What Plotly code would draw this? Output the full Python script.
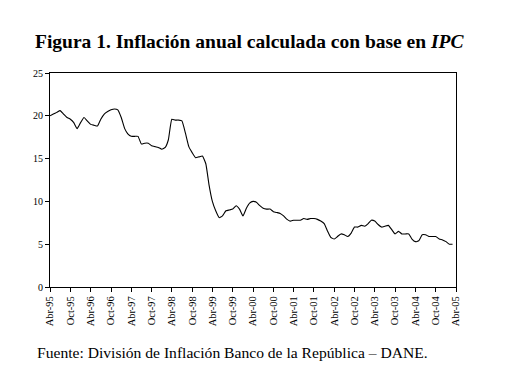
import plotly.graph_objects as go
import pandas as pd

# Monthly annual inflation (%), Abr-95 .. Mar-05
inflacion = [
    20.0, 20.2, 20.4, 20.6, 20.2, 19.8, 19.6, 19.2, 18.5, 19.2, 19.8, 19.4,
    19.0, 18.9, 18.8, 19.6, 20.2, 20.5, 20.7, 20.8, 20.7, 19.8, 18.5, 17.9,
    17.6, 17.6, 17.6, 16.7, 16.8, 16.8, 16.5, 16.4, 16.3, 16.1, 16.3, 17.2,
    19.6, 19.5, 19.5, 19.4, 18.0, 16.4, 15.7, 15.1, 15.2, 15.3, 14.4, 12.0,
    10.0, 8.9, 8.1, 8.3, 8.9, 9.0, 9.1, 9.5, 9.1, 8.3, 9.2, 9.8,
    10.0, 9.9, 9.5, 9.2, 9.1, 9.1, 8.8, 8.7, 8.6, 8.3, 7.9, 7.7,
    7.8, 7.8, 7.8, 8.0, 7.9, 8.0, 8.0, 7.9, 7.7, 7.4, 6.5, 5.8,
    5.6, 5.9, 6.2, 6.1, 5.9, 6.3, 7.0, 7.0, 7.2, 7.1, 7.4, 7.8,
    7.7, 7.3, 7.0, 7.1, 7.2, 6.7, 6.2, 6.5, 6.2, 6.2, 6.2, 5.6,
    5.3, 5.4, 6.1, 6.1, 5.9, 5.9, 5.9, 5.6, 5.5, 5.3, 5.0, 5.0,
]
fechas = pd.date_range("1995-04-01", periods=len(inflacion), freq="MS")

tick_fechas = pd.date_range("1995-04-01", "2005-04-01", freq="6MS")
tick_textos = [
    "Abr-95", "Oct-95", "Abr-96", "Oct-96", "Abr-97", "Oct-97", "Abr-98",
    "Oct-98", "Abr-99", "Oct-99", "Abr-00", "Oct-00", "Abr-01", "Oct-01",
    "Abr-02", "Oct-02", "Abr-03", "Oct-03", "Abr-04", "Oct-04", "Abr-05",
]
y_ticks = [0, 5, 10, 15, 20, 25]

serif = "Liberation Serif, Times New Roman, serif"

W, H = 515, 370  # page has an 8px body margin

fig = go.Figure()
fig.add_trace(go.Scatter(
    x=fechas, y=inflacion, mode="lines",
    line=dict(color="black", width=1.1, shape="spline", smoothing=0.4),
    hoverinfo="x+y", showlegend=False,
))

fig.update_layout(
    width=W, height=H,
    margin=dict(l=42, r=67, t=65, b=91),
    paper_bgcolor="white", plot_bgcolor="white",
    title=dict(
        text="<b>Figura 1. Inflación anual calculada con base en <i>IPC</i></b>",
        font=dict(family=serif, size=19.5, color="black"),
        x=27 / W, xanchor="left", xref="container",
        y=1 - 33 / H, yanchor="middle", yref="container",
    ),
    xaxis=dict(
        range=[tick_fechas[0], tick_fechas[-1]],
        tickvals=list(tick_fechas), ticktext=tick_textos,
        tickangle=-90, tickfont=dict(family=serif, size=10.5, color="black"),
        ticks="outside", ticklen=4, tickcolor="black",
        showline=True, linecolor="black", linewidth=1, mirror=True,
        showgrid=False, zeroline=False,
    ),
    yaxis=dict(
        range=[0, 25], tickvals=y_ticks,
        tickfont=dict(family=serif, size=10, color="black"),
        ticks="outside", ticklen=4, tickcolor="black",
        showline=True, linecolor="black", linewidth=1, mirror=True,
        showgrid=False, zeroline=False,
    ),
    annotations=[dict(
        text="Fuente: División de Inflación Banco de la República – DANE.",
        xref="paper", yref="paper",
        x=(35 - 50) / 406, xanchor="left",
        y=(287 - 352) / 214, yanchor="middle",
        showarrow=False,
        font=dict(family=serif, size=15.6, color="black"),
    )],
)

fig.write_html("out.html")
